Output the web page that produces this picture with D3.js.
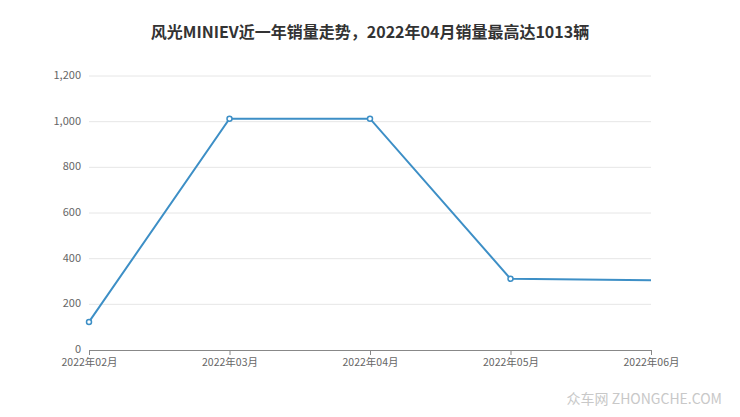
<!DOCTYPE html>
<html><head><meta charset="utf-8">
<script src="https://cdn.jsdelivr.net/npm/d3@7"></script>
<style>body{margin:0;background:#fff;font-family:"Noto Sans CJK SC","Noto Sans",sans-serif}</style>
</head><body><svg id="c" width="740" height="417"></svg>
<script>
const months = ["2022年02月","2022年03月","2022年04月","2022年05月","2022年06月"];
const sales = [123, 1013, 1013, 312, 305];
const showMarker = [true, true, true, true, false];
const yTicks = [0,200,400,600,800,1000,1200];

const svg = d3.select("#c");
const m = {l:89, r:651, t:76, b:350};
const x = d3.scalePoint().domain(months).range([m.l, m.r]);
const y = d3.scaleLinear().domain([0,1200]).range([m.b, m.t]);

svg.append("text").attr("x",370).attr("y",38).attr("text-anchor","middle")
  .attr("font-size",16).attr("font-weight","bold").attr("fill","#333")
  .text("风光MINIEV近一年销量走势，2022年04月销量最高达1013辆");

svg.append("g").selectAll("line").data(yTicks.filter(d=>d>0)).join("line")
  .attr("x1",m.l).attr("x2",m.r).attr("y1",d=>y(d)).attr("y2",d=>y(d))
  .attr("stroke","#e6e6e6");
svg.append("g").selectAll("text").data(yTicks).join("text")
  .attr("x",m.l-8).attr("y",d=>y(d)+3).attr("text-anchor","end")
  .attr("font-size",11).attr("fill","#666").text(d=>d3.format(",")(d));

const xa = svg.append("g").attr("transform",`translate(0,${m.b})`)
  .call(d3.axisBottom(x).tickSize(5).tickPadding(4));
xa.select(".domain").attr("stroke","#888");
xa.selectAll(".tick line").attr("stroke","#888");
xa.selectAll("text").attr("font-size",10.5).attr("fill","#666")
  .attr("font-family","'Noto Sans CJK SC',sans-serif");

svg.append("path").datum(sales)
  .attr("d", d3.line().x((d,i)=>x(months[i])).y(d=>y(d)))
  .attr("fill","none").attr("stroke","#3d8fc6").attr("stroke-width",2);
svg.append("g").selectAll("circle").data(sales.map((v,i)=>({v,i})).filter(d=>showMarker[d.i])).join("circle")
  .attr("cx",d=>x(months[d.i])).attr("cy",d=>y(d.v)).attr("r",2.5)
  .attr("fill","#fff").attr("stroke","#3d8fc6").attr("stroke-width",1.5);

svg.append("text").attr("x",722).attr("y",404).attr("text-anchor","end")
  .attr("font-size",14).attr("fill","#c8c8c8").text("众车网 ZHONGCHE.COM");
</script></body></html>
